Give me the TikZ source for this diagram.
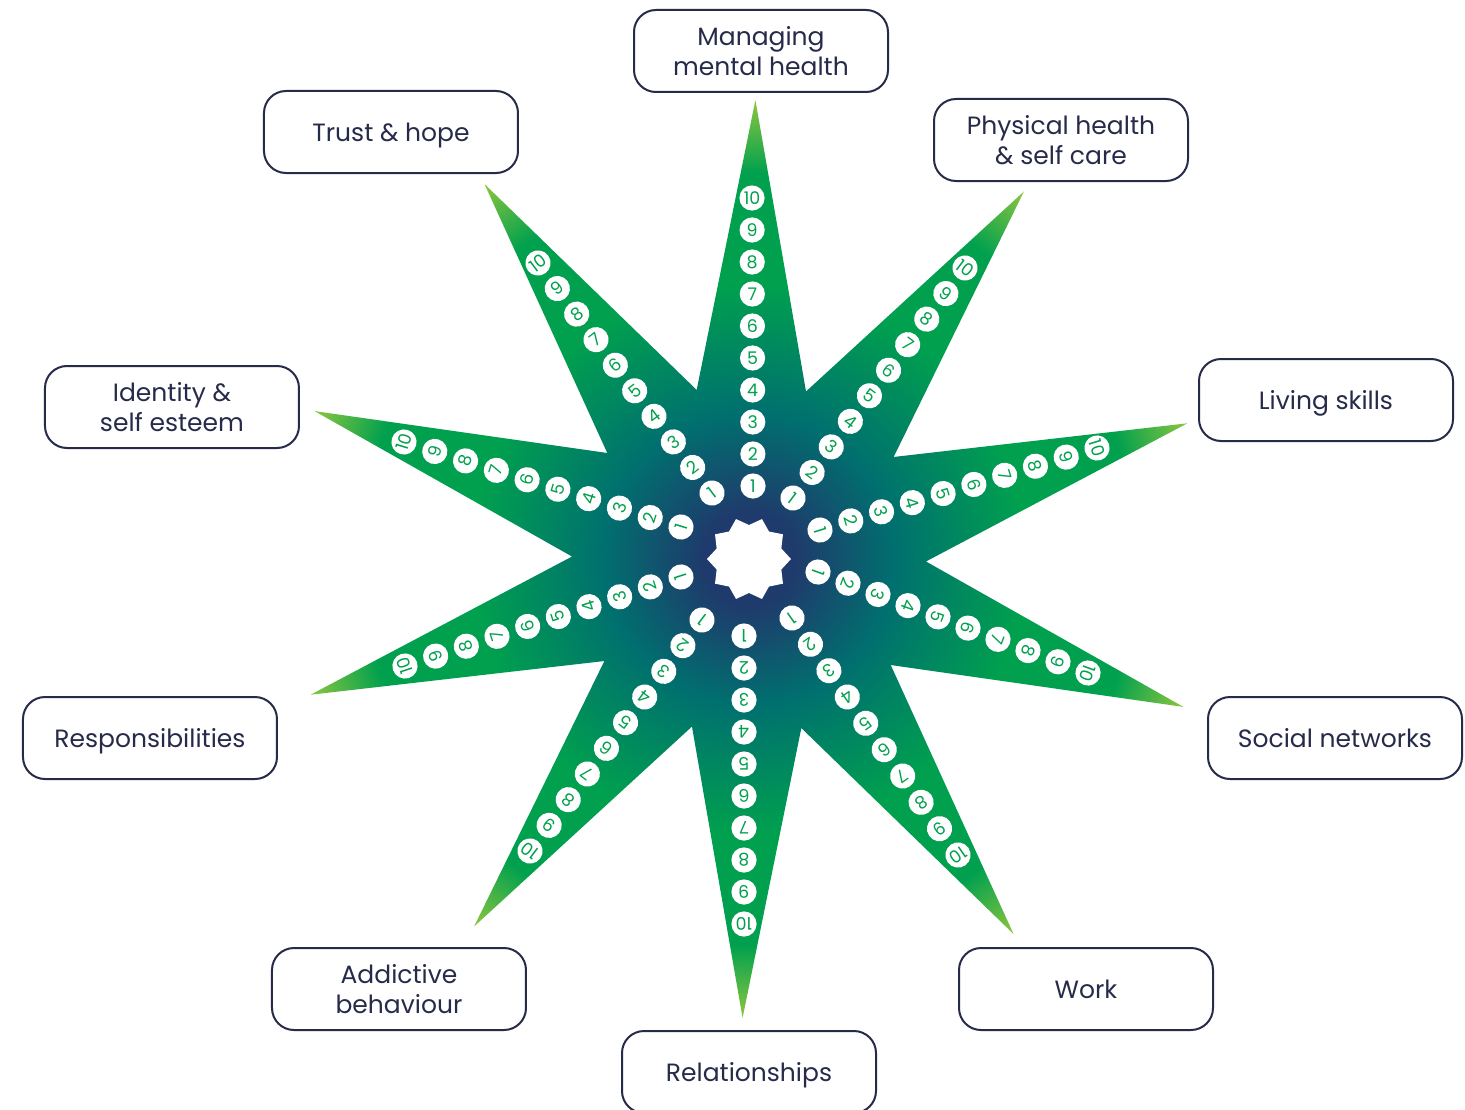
\documentclass[tikz,border=0pt]{standalone}
\usepackage{fontspec}
\setmainfont{Poppins}
\usetikzlibrary{calc}

\definecolor{ink}{HTML}{272B4A}
\definecolor{leaf}{HTML}{00A04E}
\definecolor{tiplime}{HTML}{8CC63F}
\definecolor{deepteal}{HTML}{00706F}
\definecolor{corenavy}{HTML}{1F3A6C}

% radial glow for the star: navy core, green arms, lime tips
\pgfdeclareradialshading{starglow}{\pgfpoint{0bp}{0bp}}{%
  color(0bp)=(corenavy); color(2.5bp)=(corenavy); color(8bp)=(deepteal);
  color(15bp)=(leaf); color(21bp)=(leaf); color(25bp)=(tiplime)}

\begin{document}
\begin{tikzpicture}[x=0.5pt,y=0.5pt,
  topic/.style={draw=ink,line width=1pt,rounded corners=11pt,fill=white,
    minimum width=127pt,minimum height=41pt,align=center,text=ink,text depth=0pt,
    font=\fontsize{12.5}{15}\selectfont},
  score/.style={circle,fill=white,text=leaf,inner sep=0pt,minimum size=12.6pt,
    font=\fontsize{8.7}{9}\selectfont}
]
\useasboundingbox (-749,-550) rectangle (716,559);

% Star body
\begin{scope}
  \clip (89.2:459) \foreach \k in {0,...,9} { -- ({71.2-36*\k}:177) -- ({53.2-36*\k}:459) } -- cycle;
  \shade[shading=starglow] (0,0) circle (459);
\end{scope}

% White core
\fill[white] (0:42) \foreach \k in {1,...,10} { -- ({36*\k-18}:34) -- ({36*\k}:42) } -- cycle;

% Score circles 1-10 along each arm
\foreach \rot/\sx/\sy/\ex/\ey [count=\s] in {
    0/4/73/3/361, -37/44/61/216/291, -73/71/29/348/111, -110/69/-13/339/-114,
    -145/43/-59/209/-296, 180/-5/-77/-5/-365, 143/-47/-61/-219/-292,
    108/-68/-18/-344/-107, 73/-68/32/-345/117, 37/-37/66/-211/296}
  \foreach \n in {1,...,10}
    \node[score,rotate=\rot] (s\s-\n) at ($(\sx,\sy)!{(\n-1)/9}!(\ex,\ey)$) {\n};

% Topics at the tips
\node[topic] (mental) at (12,508) {Managing\\mental health};
\node[topic] (physical) at (312,419) {Physical health\\\& self care};
\node[topic] (living) at (577,159) {Living skills};
\node[topic] (social) at (586,-179) {Social networks};
\node[topic] (work) at (337,-430) {Work};
\node[topic] (relations) at (0,-513) {Relationships};
\node[topic] (addictive) at (-350,-430) {Addictive\\behaviour};
\node[topic] (duties) at (-599,-179) {Responsibilities};
\node[topic] (identity) at (-577,152) {Identity \&\\self esteem};
\node[topic] (trust) at (-358,427) {Trust \& hope};

\end{tikzpicture}
\end{document}
